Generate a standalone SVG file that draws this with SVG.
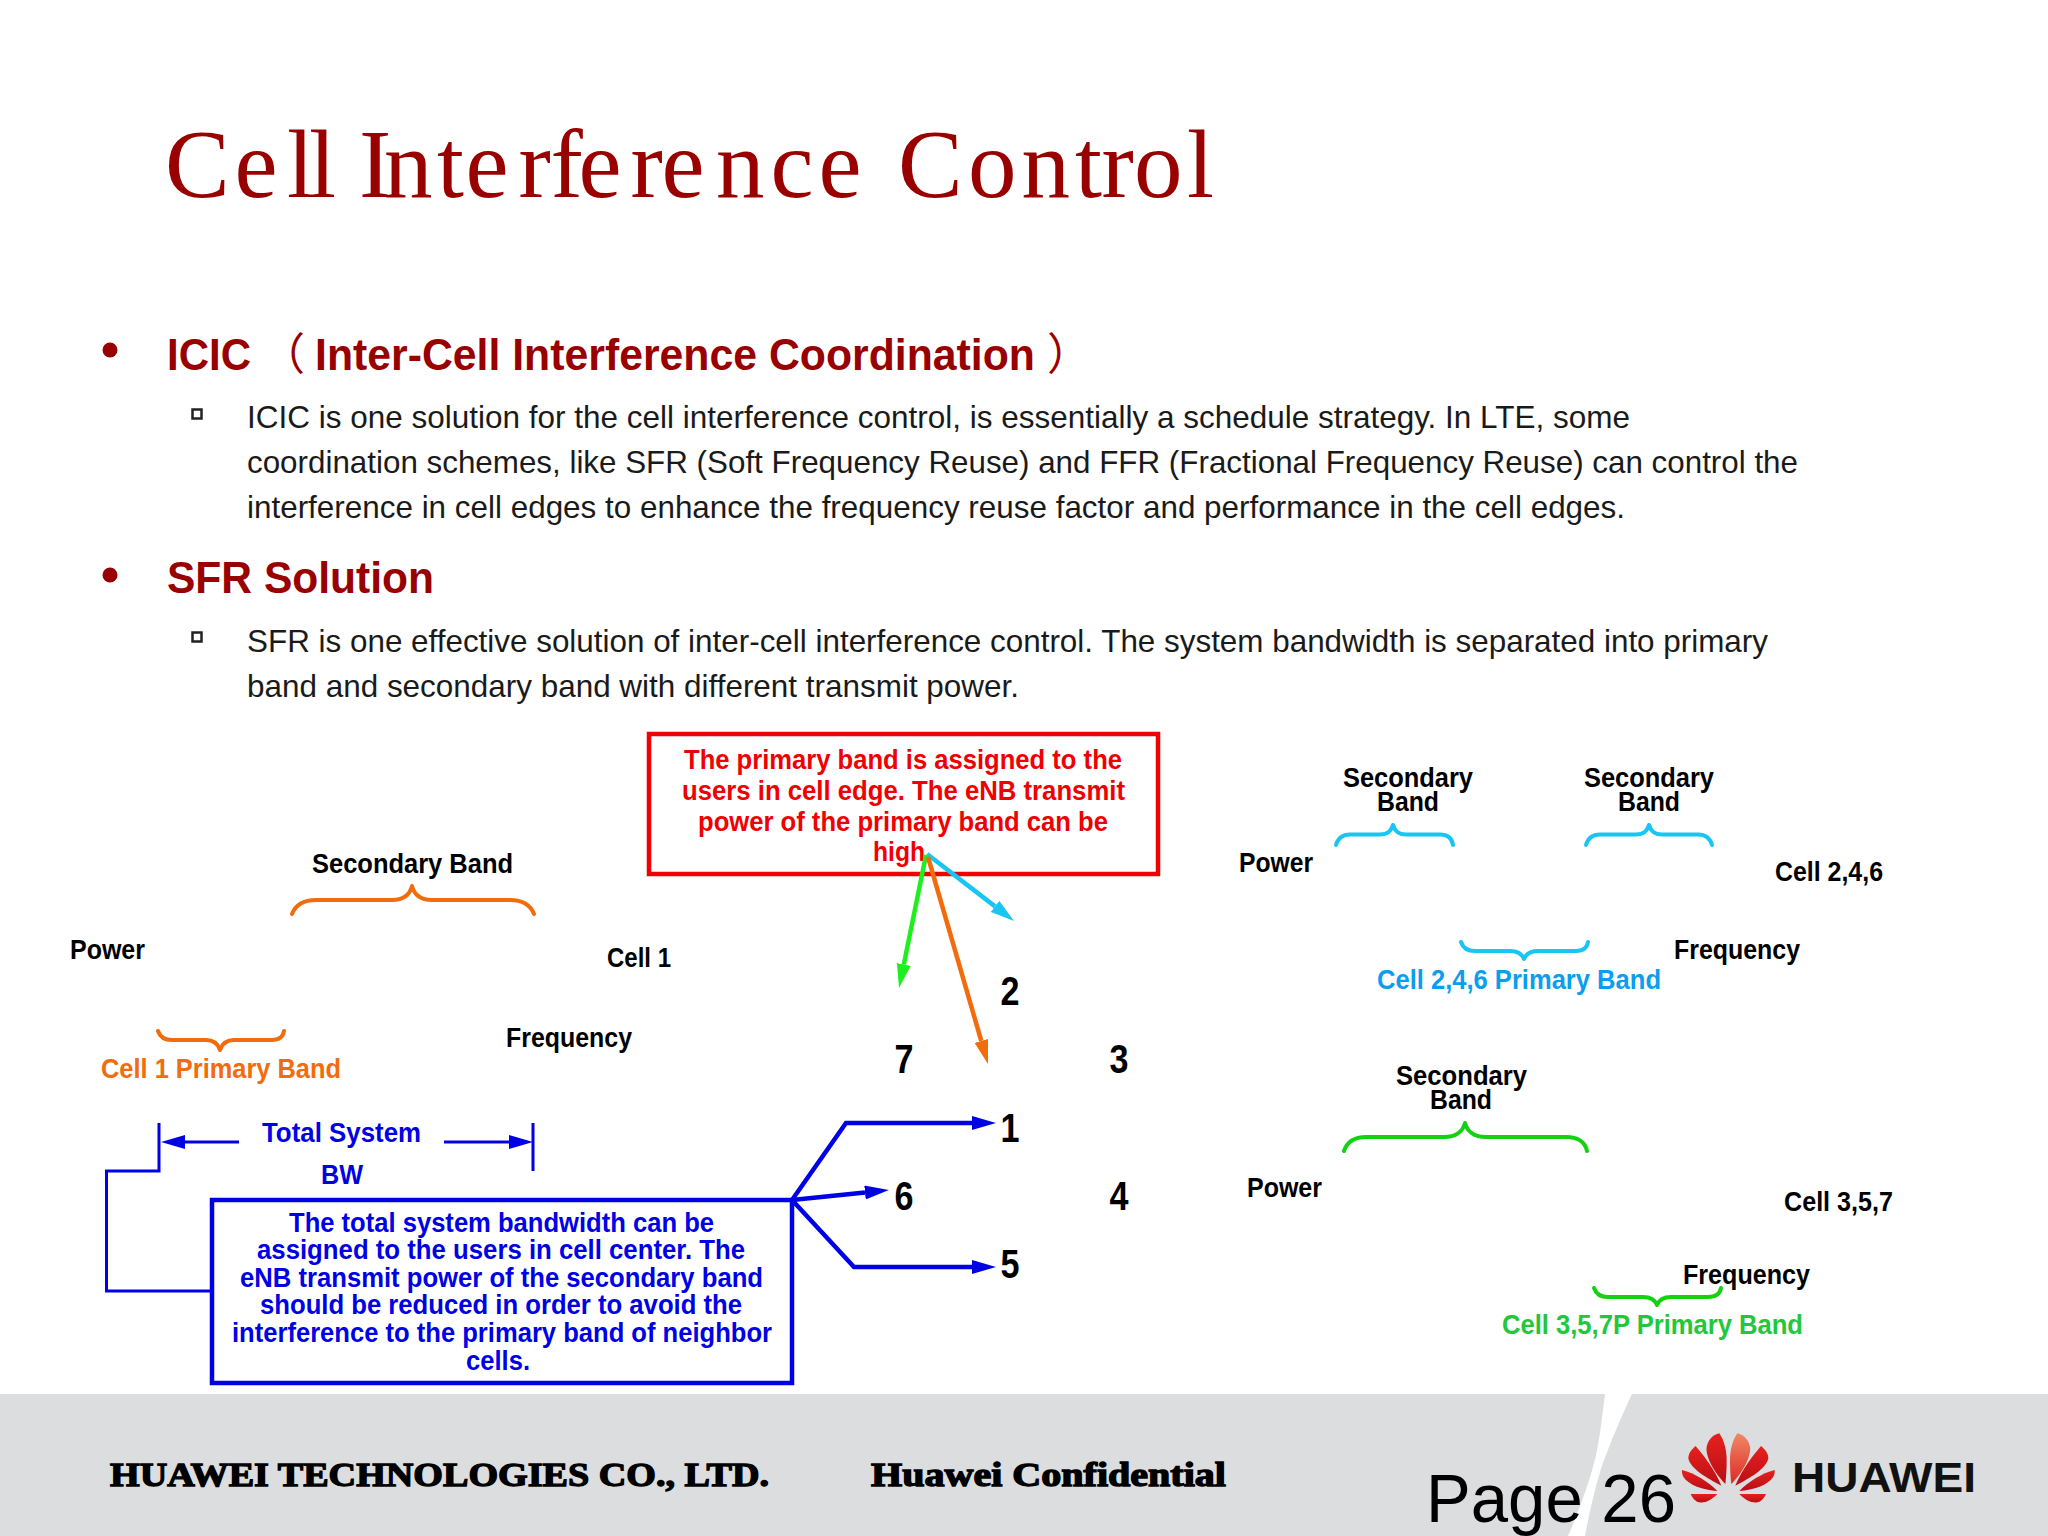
<svg xmlns="http://www.w3.org/2000/svg" width="2048" height="1536" viewBox="0 0 2048 1536">
<style>
text{font-family:"Liberation Sans","Noto Sans CJK SC",sans-serif}
.lab{font-size:28px;font-weight:bold;fill:#000}
.num{font-size:40px;font-weight:bold;fill:#000;text-anchor:middle}
.body{font-size:32px;fill:#1a1a1a}
.head{font-size:44px;font-weight:bold;fill:#990000}
.red{font-size:28px;font-weight:bold;fill:#f00000}
.blue{font-size:28px;font-weight:bold;fill:#0000e6}
.foot{font-family:"Liberation Serif",serif;font-size:33px;font-weight:bold;fill:#000;stroke:#000;stroke-width:1.300}
.b{fill:none;stroke-width:4;stroke-linecap:round;stroke-linejoin:round}
.bo{stroke:#f26c0d}.bc{stroke:#19c5f2}.bg{stroke:#12d212}
.c{fill:none;stroke-linejoin:miter}
.petal{fill:url(#pg)}
</style>
<defs>
<linearGradient id="pg" x1="0" y1="0" x2="0" y2="1"><stop offset="0" stop-color="#e8201f"/><stop offset="1" stop-color="#b80f14"/></linearGradient>
<linearGradient id="pl" x1="0" y1="0" x2="0" y2="1"><stop offset="0" stop-color="#f08868"/><stop offset="1" stop-color="#dc2a22"/></linearGradient>
<marker id="ac" markerUnits="userSpaceOnUse" markerWidth="24" markerHeight="14" refX="0" refY="7" orient="auto"><path d="M0 0L24 7L0 14z" fill="#19c5f2"/></marker>
<marker id="ag" markerUnits="userSpaceOnUse" markerWidth="24" markerHeight="14" refX="0" refY="7" orient="auto"><path d="M0 0L24 7L0 14z" fill="#1df01d"/></marker>
<marker id="ao" markerUnits="userSpaceOnUse" markerWidth="24" markerHeight="14" refX="0" refY="7" orient="auto"><path d="M0 0L24 7L0 14z" fill="#f26c0d"/></marker>
<marker id="ab" markerUnits="userSpaceOnUse" markerWidth="24" markerHeight="14" refX="0" refY="7" orient="auto"><path d="M0 0L24 7L0 14z" fill="#0000e6"/></marker>
</defs>
<rect width="2048" height="1536" fill="#fff"/>

<g id="title"><text y="197" font-size="97" fill="#990000" style="font-family:'Liberation Serif',serif" x="165 234.500 287 309 345 359 384 437 465.500 518.500 550.500 578.500 630.500 661.500 716 770.500 818.500 880 898 968 1021.500 1075 1101.500 1134 1187">Cell Interference Control</text></g>

<g id="section-icic">
<circle cx="110" cy="350" r="7.500" fill="#990000"/>
<text class="head" y="370"><tspan x="167" textLength="84" lengthAdjust="spacingAndGlyphs">ICIC</tspan><tspan x="261" font-weight="normal">（</tspan><tspan x="315" textLength="720" lengthAdjust="spacingAndGlyphs">Inter-Cell Interference Coordination</tspan><tspan x="1047" font-weight="normal">）</tspan></text>
<rect x="192.500" y="409.500" width="9" height="9" fill="none" stroke="#222" stroke-width="2.500"/>
<text class="body" x="247" y="428" textLength="1383" lengthAdjust="spacingAndGlyphs">ICIC is one solution for the cell interference control, is essentially a schedule strategy. In LTE, some</text>
<text class="body" x="247" y="473" textLength="1551" lengthAdjust="spacingAndGlyphs">coordination schemes, like SFR (Soft Frequency Reuse) and FFR (Fractional Frequency Reuse) can control the</text>
<text class="body" x="247" y="518" textLength="1378" lengthAdjust="spacingAndGlyphs">interference in cell edges to enhance the frequency reuse factor and performance in the cell edges.</text>
</g>

<g id="section-sfr">
<circle cx="110" cy="575" r="7.500" fill="#990000"/>
<text class="head" x="167" y="593" textLength="267" lengthAdjust="spacingAndGlyphs">SFR Solution</text>
<rect x="192.500" y="632.500" width="9" height="9" fill="none" stroke="#222" stroke-width="2.500"/>
<text class="body" x="247" y="652" textLength="1521" lengthAdjust="spacingAndGlyphs">SFR is one effective solution of inter-cell interference control. The system bandwidth is separated into primary</text>
<text class="body" x="247" y="697" textLength="772" lengthAdjust="spacingAndGlyphs">band and secondary band with different transmit power.</text>
</g>

<g id="cell1-chart">
<text class="lab" x="312" y="873" textLength="201" lengthAdjust="spacingAndGlyphs">Secondary Band</text>
<path class="b bo" d="M292 914C296 904 304 900 316 900L392 900C404 900 410 894 412 886C414 894 420 900 432 900L510 900C522 900 530 904 534 914"/>
<text class="lab" x="70" y="959" textLength="75" lengthAdjust="spacingAndGlyphs">Power</text>
<text class="lab" x="607" y="967" textLength="64" lengthAdjust="spacingAndGlyphs">Cell 1</text>
<path class="b bo" d="M158 1031C160 1037 165 1040 172 1040L206 1040C214 1040 218 1044 220 1050C222 1044 226 1040 234 1040L272 1040C279 1040 283 1037 284 1031"/>
<text class="lab" x="101" y="1078" textLength="240" lengthAdjust="spacingAndGlyphs" style="fill:#f26c0d">Cell 1 Primary Band</text>
<text class="lab" x="506" y="1047" textLength="126" lengthAdjust="spacingAndGlyphs">Frequency</text>
</g>

<g id="total-bw">
<text class="blue" x="262" y="1142" textLength="159" lengthAdjust="spacingAndGlyphs">Total System</text>
<text class="blue" x="321" y="1184" textLength="42" lengthAdjust="spacingAndGlyphs">BW</text>
</g>

<g id="callout-primary">
<rect x="649" y="734" width="509" height="140" fill="none" stroke="#f00000" stroke-width="4.500"/>
<text class="red" x="684" y="769" textLength="438" lengthAdjust="spacingAndGlyphs">The primary band is assigned to the</text>
<text class="red" x="682" y="800" textLength="443" lengthAdjust="spacingAndGlyphs">users in cell edge. The eNB transmit</text>
<text class="red" x="698" y="831" textLength="410" lengthAdjust="spacingAndGlyphs">power of the primary band can be</text>
<text class="red" x="873" y="861" textLength="52" lengthAdjust="spacingAndGlyphs">high</text>
</g>

<g id="callout-total">
<rect x="212" y="1200" width="580" height="183" fill="none" stroke="#0000e6" stroke-width="4.500"/>
<text class="blue" x="289" y="1232" textLength="425" lengthAdjust="spacingAndGlyphs">The total system bandwidth can be</text>
<text class="blue" x="257" y="1259" textLength="488" lengthAdjust="spacingAndGlyphs">assigned to the users in cell center. The</text>
<text class="blue" x="240" y="1287" textLength="523" lengthAdjust="spacingAndGlyphs">eNB transmit power of the secondary band</text>
<text class="blue" x="260" y="1314" textLength="482" lengthAdjust="spacingAndGlyphs">should be reduced in order to avoid the</text>
<text class="blue" x="232" y="1342" textLength="540" lengthAdjust="spacingAndGlyphs">interference to the primary band of neighbor</text>
<text class="blue" x="466" y="1370" textLength="64" lengthAdjust="spacingAndGlyphs">cells.</text>
</g>

<g id="cell-numbers">
<text class="num" x="1010" y="1005" textLength="19" lengthAdjust="spacingAndGlyphs">2</text>
<text class="num" x="904" y="1073" textLength="19" lengthAdjust="spacingAndGlyphs">7</text>
<text class="num" x="1119" y="1073" textLength="19" lengthAdjust="spacingAndGlyphs">3</text>
<text class="num" x="1010" y="1142" textLength="19" lengthAdjust="spacingAndGlyphs">1</text>
<text class="num" x="904" y="1210" textLength="19" lengthAdjust="spacingAndGlyphs">6</text>
<text class="num" x="1119" y="1210" textLength="19" lengthAdjust="spacingAndGlyphs">4</text>
<text class="num" x="1010" y="1278" textLength="19" lengthAdjust="spacingAndGlyphs">5</text>
</g>

<g id="cell246-chart">
<text class="lab" x="1343" y="787" textLength="130" lengthAdjust="spacingAndGlyphs">Secondary</text>
<text class="lab" x="1377" y="811" textLength="62" lengthAdjust="spacingAndGlyphs">Band</text>
<text class="lab" x="1584" y="787" textLength="130" lengthAdjust="spacingAndGlyphs">Secondary</text>
<text class="lab" x="1618" y="811" textLength="62" lengthAdjust="spacingAndGlyphs">Band</text>
<path class="b bc" d="M1336 845C1338 838 1342 834.500 1350 834.500L1380 834.500C1388 834.500 1391 831 1393 825C1395 831 1398 834.500 1406 834.500L1440 834.500C1448 834.500 1452 838 1453 845"/>
<path class="b bc" d="M1586 845C1588 838 1592 834.500 1600 834.500L1636 834.500C1644 834.500 1647 831 1649 825C1651 831 1654 834.500 1662 834.500L1698 834.500C1706 834.500 1710 838 1712 845"/>
<text class="lab" x="1239" y="872" textLength="74" lengthAdjust="spacingAndGlyphs">Power</text>
<text class="lab" x="1775" y="881" textLength="108" lengthAdjust="spacingAndGlyphs">Cell 2,4,6</text>
<path class="b bc" d="M1461 942C1463 948 1468 951 1475 951L1510 951C1518 951 1522 954 1524 959C1526 954 1530 951 1538 951L1576 951C1583 951 1587 948 1588 942"/>
<text class="lab" x="1674" y="959" textLength="126" lengthAdjust="spacingAndGlyphs">Frequency</text>
<text class="lab" x="1377" y="989" textLength="284" lengthAdjust="spacingAndGlyphs" style="fill:#0a9df0">Cell 2,4,6 Primary Band</text>
</g>

<g id="cell357-chart">
<text class="lab" x="1396" y="1085" textLength="131" lengthAdjust="spacingAndGlyphs">Secondary</text>
<text class="lab" x="1430" y="1109" textLength="62" lengthAdjust="spacingAndGlyphs">Band</text>
<path class="b bg" d="M1344 1151C1347 1142 1354 1137 1366 1137L1444 1137C1456 1137 1463 1131 1465 1123C1467 1131 1474 1137 1486 1137L1566 1137C1578 1137 1585 1142 1587 1151"/>
<text class="lab" x="1247" y="1197" textLength="75" lengthAdjust="spacingAndGlyphs">Power</text>
<text class="lab" x="1784" y="1211" textLength="109" lengthAdjust="spacingAndGlyphs">Cell 3,5,7</text>
<text class="lab" x="1683" y="1284" textLength="127" lengthAdjust="spacingAndGlyphs">Frequency</text>
<path class="b bg" d="M1594 1288C1596 1294 1601 1297 1608 1297L1643 1297C1651 1297 1655 1300 1657 1305C1659 1300 1663 1297 1671 1297L1708 1297C1715 1297 1720 1294 1721 1288"/>
<text class="lab" x="1502" y="1334" textLength="301" lengthAdjust="spacingAndGlyphs" style="fill:#22c83a">Cell 3,5,7P Primary Band</text>
</g>

<g id="connectors">
<path class="c" d="M927 854L995 906.400" stroke="#19c5f2" stroke-width="4.500" marker-end="url(#ac)"/>
<path class="c" d="M926 855L903.800 964.500" stroke="#1df01d" stroke-width="4.500" marker-end="url(#ag)"/>
<path class="c" d="M928 857L981.300 1041" stroke="#f26c0d" stroke-width="4.500" marker-end="url(#ao)"/>
<path class="c" d="M792 1200L846 1123L972 1123" stroke="#0000e6" stroke-width="4.500" marker-end="url(#ab)"/>
<path class="c" d="M792 1200L865 1192.500" stroke="#0000e6" stroke-width="4.500" marker-end="url(#ab)"/>
<path class="c" d="M792 1200L854 1267L972 1267" stroke="#0000e6" stroke-width="4.500" marker-end="url(#ab)"/>
<path class="c" d="M239 1142L185 1142" stroke="#0000e6" stroke-width="3" marker-end="url(#ab)"/>
<path class="c" d="M444 1142L509 1142" stroke="#0000e6" stroke-width="3" marker-end="url(#ab)"/>
<path class="c" d="M159 1123V1171H106.500V1291H211" stroke="#0000e6" stroke-width="3"/>
<path class="c" d="M533 1123V1171" stroke="#0000e6" stroke-width="3"/>
</g>

<g id="footer">
<rect x="0" y="1394" width="2048" height="142" fill="#dcddde"/>
<path d="M1605 1394L1632 1394C1622 1415 1608 1448 1600 1472C1594 1492 1589 1515 1585 1536L1568 1536C1574 1522 1578 1512 1583 1498C1590 1478 1595 1462 1598 1445C1601 1428 1603 1410 1605 1394Z" fill="#fff"/>
<text class="foot" x="110" y="1486" textLength="659" lengthAdjust="spacingAndGlyphs">HUAWEI TECHNOLOGIES CO., LTD.</text>
<text class="foot" x="871" y="1486" textLength="355" lengthAdjust="spacingAndGlyphs">Huawei Confidential</text>
<text x="1426" y="1522" font-size="68" fill="#000" textLength="250" lengthAdjust="spacingAndGlyphs">Page 26</text>
</g>

<g id="logo">
<g transform="translate(1660 1420) scale(.3333)">
<path class="petal" d="M196 192C165 160 135 110 140 80C145 55 165 42 178 40C192 60 200 90 200 120C200 150 198 175 196 192Z"/>
<path fill="url(#pl)" d="M214 192C245 160 275 110 270 80C265 55 245 42 232 40C218 60 210 90 210 120C210 150 212 175 214 192Z"/>
<path class="petal" d="M184 197C140 175 90 145 85 115C85 100 95 88 107 78C130 105 165 150 184 197Z"/>
<path class="petal" d="M226 197C270 175 320 145 325 115C325 100 315 88 303 78C280 105 245 150 226 197Z"/>
<path class="petal" d="M172 213C130 210 85 195 70 170C66 162 65 155 66 150C105 160 145 185 172 213Z"/>
<path class="petal" d="M238 213C280 210 325 195 340 170C344 162 345 155 344 150C305 160 265 185 238 213Z"/>
<path class="petal" d="M92 222L172 222C155 240 135 250 118 247C105 245 97 233 92 222Z"/>
<path class="petal" d="M318 222L238 222C255 240 275 250 292 247C305 245 313 233 318 222Z"/>
</g>
<text x="1792" y="1492" font-size="42" font-weight="bold" fill="#111" textLength="184" lengthAdjust="spacingAndGlyphs">HUAWEI</text>
</g>
</svg>
